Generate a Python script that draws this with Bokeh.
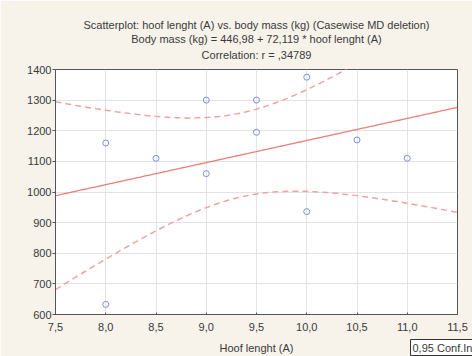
import numpy as np
from bokeh.plotting import figure
from bokeh.models import Range1d, FixedTicker, CustomJSTickFormatter, Title
from bokeh.embed import file_html
from bokeh.resources import INLINE

# ---- data ----
hoof_length = [8.0, 8.0, 8.5, 9.0, 9.0, 9.5, 9.5, 10.0, 10.0, 10.5, 11.0]
body_mass = [1160, 633, 1110, 1300, 1060, 1300, 1195, 1375, 936, 1170, 1110]
intercept = 446.98
slope = 72.119
t_crit = 2.262157  # t(0.975, df=9)
x_ticks = [7.5, 8.0, 8.5, 9.0, 9.5, 10.0, 10.5, 11.0, 11.5]
y_ticks = [600, 700, 800, 900, 1000, 1100, 1200, 1300, 1400]
title_lines = [
    "Scatterplot: hoof lenght (A) vs. body mass (kg) (Casewise MD deletion)",
    "Body mass (kg) = 446,98 + 72,119 * hoof lenght (A)",
    "Correlation: r = ,34789",
]
x_label = "Hoof lenght (A)"
legend_text = "0,95 Conf.Int"

# ---- regression line and 95% confidence band ----
xs = np.array(hoof_length)
ys = np.array(body_mass)
n = len(xs)
resid = ys - (intercept + slope * xs)
s = np.sqrt(np.sum(resid ** 2) / (n - 2))
sxx = np.sum((xs - xs.mean()) ** 2)
xg = np.linspace(x_ticks[0], x_ticks[-1], 200)
fit = intercept + slope * xg
half = t_crit * s * np.sqrt(1.0 / n + (xg - xs.mean()) ** 2 / sxx)

FONT = "Liberation Sans"
TXT = "#3a3a3a"
BG = "#f7f3eb"

p = figure(width=472, height=356, output_backend="svg", toolbar_location=None,
           x_range=Range1d(x_ticks[0], x_ticks[-1]), y_range=Range1d(y_ticks[0], y_ticks[-1]),
           min_border_left=55, min_border_right=15, min_border_top=69, min_border_bottom=42,
           background_fill_color="white", border_fill_color=BG)
p.outline_line_color = "#555555"
p.outline_line_width = 1

fmt = CustomJSTickFormatter(code="return tick.toFixed(1).replace('.', ',');")

p.xaxis.ticker = FixedTicker(ticks=x_ticks)
p.yaxis.ticker = FixedTicker(ticks=y_ticks)
p.xaxis.formatter = fmt
for ax in p.xaxis + p.yaxis:
    ax.axis_line_color = "#555555"
    ax.major_tick_line_color = "#555555"
    ax.minor_tick_line_color = None
    ax.major_label_text_font = FONT
    ax.major_label_text_font_size = "11px"
    ax.major_label_text_color = TXT
p.xaxis.major_tick_out = 0
p.xaxis.major_tick_in = 2
p.xaxis.major_label_standoff = 8
p.yaxis.major_tick_out = 3
p.yaxis.major_tick_in = 0
p.yaxis.major_label_standoff = 1
p.xaxis.axis_label = x_label
p.xaxis.axis_label_text_font = FONT
p.xaxis.axis_label_text_font_size = "11px"
p.xaxis.axis_label_text_font_style = "normal"
p.xaxis.axis_label_text_color = TXT
p.xaxis.axis_label_standoff = 8

p.xgrid.grid_line_color = "#e3e3e3"
p.ygrid.grid_line_color = "#e3e3e3"
p.xgrid.ticker = FixedTicker(ticks=x_ticks)
p.ygrid.ticker = FixedTicker(ticks=y_ticks)

p.line(xg, fit, line_color="#e8807a", line_width=1.3)
p.line(xg, fit + half, line_color="#f0a3a0", line_width=1.5, line_dash="6 4")
p.line(xg, fit - half, line_color="#f0a3a0", line_width=1.5, line_dash="6 4")
p.scatter(hoof_length, body_mass, marker="circle", size=6, fill_color=None,
          line_color="#7f8fd8", line_width=1)

# three title lines: p.title is the outermost, added titles stack outward from the frame
p.title.text = title_lines[0]
t3 = Title(text=title_lines[2])
t2 = Title(text=title_lines[1])
p.add_layout(t3, "above")
p.add_layout(t2, "above")
for tt, so in ((p.title, 12.0), (t2, -12.0), (t3, 17.0)):
    tt.align = "center"
    tt.text_font = FONT
    tt.text_font_size = "11px"
    tt.text_font_style = "normal"
    tt.text_color = TXT
    tt.standoff = so

# confidence-interval legend box at the bottom right, cut by the page edge
box = Title(text=legend_text, align="left", offset=355, standoff=-34, vertical_align="top",
            text_font=FONT, text_font_size="11px", text_font_style="normal",
            text_color=TXT, border_line_color="#333333",
            background_fill_color="white", padding=2)
p.add_layout(box, "below")

open("out.html", "w").write(file_html(p, INLINE))
